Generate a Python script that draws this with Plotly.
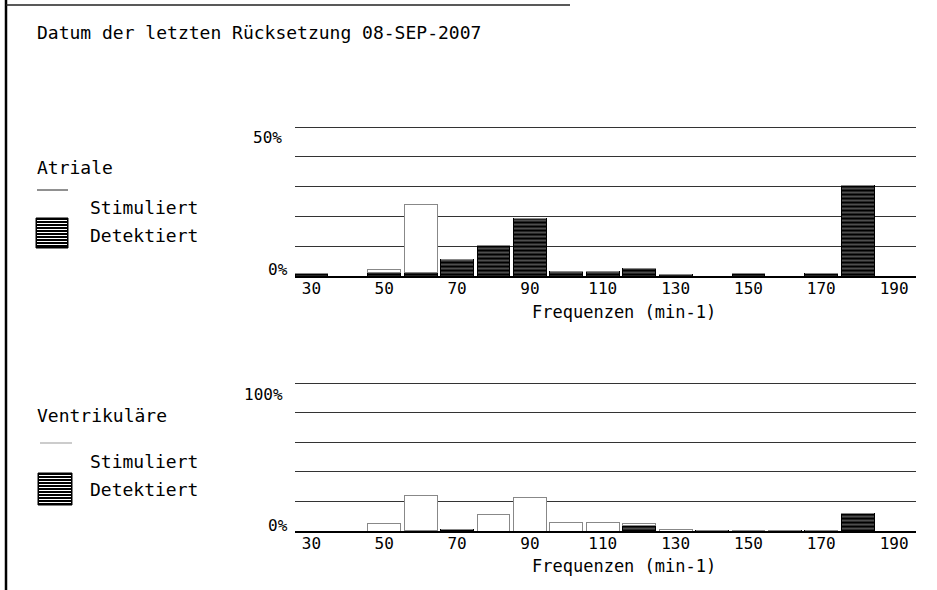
import plotly.graph_objects as go

# ---------------- data ----------------
bins = [30, 40, 50, 60, 70, 80, 90, 100, 110, 120, 130, 140, 150, 160, 170, 180]
tick_vals = [30, 50, 70, 90, 110, 130, 150, 170, 190]
tick_text = ["30", "50", "70", "90", "110", "130", "150", "170", "190"]

atr_detected = [1.0, 0, 1.2, 1.2, 5.4, 10.1, 19.3, 1.5, 1.5, 2.5, 0.6, 0, 0.9, 0, 0.9, 30.5]
atr_stimulated = [0, 0, 1.0, 22.8, 0, 0, 0, 0, 0, 0, 0, 0, 0, 0, 0, 0]

ven_detected = [0, 0, 0, 0.5, 0.7, 0, 0, 0, 0, 4.0, 0, 0.3, 0.3, 0.3, 0.3, 12.0]
ven_stimulated = [0, 0, 5.0, 23.5, 0, 11.0, 22.5, 6.0, 5.5, 1.0, 1.3, 0, 0, 0, 0, 0]

title_text = "Datum der letzten Rücksetzung 08-SEP-2007"
xlabel = "Frequenzen (min-1)"
group_names = ["Atriale", "Ventrikuläre"]
series_names = ["Stimuliert", "Detektiert"]

# ---------------- layout helpers ----------------
W, H = 937, 590
FONT = "DejaVu Sans Mono"


def px(x):
    return x / W


def py(y):
    return 1 - y / H


fig = go.Figure()

hatch = dict(shape="-", bgcolor="black", fgcolor="white", size=4, solidity=0.3)

for det, stim, xa, ya in [(atr_detected, atr_stimulated, "x", "y"),
                          (ven_detected, ven_stimulated, "x2", "y2")]:
    fig.add_trace(go.Bar(x=bins, y=det, width=9, xaxis=xa, yaxis=ya,
                         name=series_names[1], showlegend=False,
                         marker=dict(color="black", pattern=hatch,
                                     line=dict(color="black", width=1))))
    fig.add_trace(go.Bar(x=bins, y=stim, width=9, xaxis=xa, yaxis=ya,
                         name=series_names[0], showlegend=False,
                         marker=dict(color="white",
                                     line=dict(color="#888", width=1))))

xcommon = dict(range=[25.5, 196], domain=[px(295), px(916)], tickvals=tick_vals,
               ticktext=tick_text, showgrid=False, zeroline=False, showline=True,
               linecolor="black", linewidth=1.5, ticks="", ticklen=0,
               ticklabelstandoff=-3,
               tickfont=dict(family=FONT, size=16, color="black"))

# top panel: 0% at y=276 px, 50% at y=127 px  -> 2.98 px per %
# bottom panel: 0% at y=531 px, 100% at y=383 px -> 1.48 px per %
fig.update_layout(
    width=W, height=H, margin=dict(l=0, r=0, t=0, b=0),
    paper_bgcolor="white", plot_bgcolor="white", barmode="stack",
    font=dict(family=FONT, color="black"),
    xaxis=dict(anchor="y", **xcommon),
    xaxis2=dict(anchor="y2", **xcommon),
    yaxis=dict(anchor="x", domain=[py(276), py(127 - 1.5 * 2.98)], range=[0, 51.5],
               tickvals=[10, 20, 30, 40, 50], showticklabels=False,
               showgrid=True, gridcolor="#333", gridwidth=1, zeroline=False),
    yaxis2=dict(anchor="x2", domain=[py(531), py(383 - 3 * 1.48)], range=[0, 103],
                tickvals=[20, 40, 60, 80, 100], showticklabels=False,
                showgrid=True, gridcolor="#333", gridwidth=1, zeroline=False),
)

ann = []
# title
ann.append(dict(text=title_text, x=px(35), y=py(32), xref="paper", yref="paper",
                xanchor="left", yanchor="middle", showarrow=False,
                font=dict(family=FONT, size=18)))
# y labels
for txt, xr, yv, yref in [("50%", 284, 46.5, "y"), ("0%", 290, 2.3, "y"),
                          ("100%", 285, 92, "y2"), ("0%", 290, 4, "y2")]:
    ann.append(dict(text=txt, x=px(xr), y=yv, xref="paper", yref=yref,
                    xanchor="right", yanchor="middle", showarrow=False,
                    font=dict(family=FONT, size=16)))
# axis titles
for yy in [312, 566]:
    ann.append(dict(text=xlabel, x=px(624), y=py(yy), xref="paper", yref="paper",
                    xanchor="center", yanchor="middle", showarrow=False,
                    font=dict(family=FONT, size=17)))
# legends
for name, yname, ys, yd in [(group_names[0], 168, 207, 235),
                            (group_names[1], 415, 461, 489)]:
    ann.append(dict(text=name, x=px(35), y=py(yname), xref="paper", yref="paper",
                    xanchor="left", yanchor="middle", showarrow=False,
                    font=dict(family=FONT, size=18)))
    ann.append(dict(text=series_names[0], x=px(88), y=py(ys), xref="paper", yref="paper",
                    xanchor="left", yanchor="middle", showarrow=False,
                    font=dict(family=FONT, size=18)))
    ann.append(dict(text=series_names[1], x=px(88), y=py(yd), xref="paper", yref="paper",
                    xanchor="left", yanchor="middle", showarrow=False,
                    font=dict(family=FONT, size=18)))

shapes = []
# frame
shapes.append(dict(type="line", xref="paper", yref="paper", x0=px(6), x1=px(6),
                   y0=0, y1=1, line=dict(color="black", width=2.5)))
shapes.append(dict(type="line", xref="paper", yref="paper", x0=px(6), x1=px(570),
                   y0=py(5), y1=py(5), line=dict(color="#222", width=1.5)))
# legend symbols
for lx0, lx1, ly, bx0, bx1, by0, by1, lc in [(37, 68, 190, 36, 68, 218, 248, "#222"),
                                             (40, 72, 443, 38, 72, 473, 505, "#999")]:
    shapes.append(dict(type="line", xref="paper", yref="paper", x0=px(lx0), x1=px(lx1),
                       y0=py(ly), y1=py(ly), line=dict(color=lc, width=1)))
    shapes.append(dict(type="rect", xref="paper", yref="paper", x0=px(bx0), x1=px(bx1),
                       y0=py(by1), y1=py(by0), fillcolor="black",
                       line=dict(color="black", width=1)))
    yy = by0 + 2.5
    while yy < by1 - 1:
        shapes.append(dict(type="line", xref="paper", yref="paper", x0=px(bx0 + 1),
                           x1=px(bx1 - 1), y0=py(yy), y1=py(yy),
                           line=dict(color="white", width=1)))
        yy += 3

fig.update_layout(annotations=ann, shapes=shapes)
fig.write_html("out.html")
